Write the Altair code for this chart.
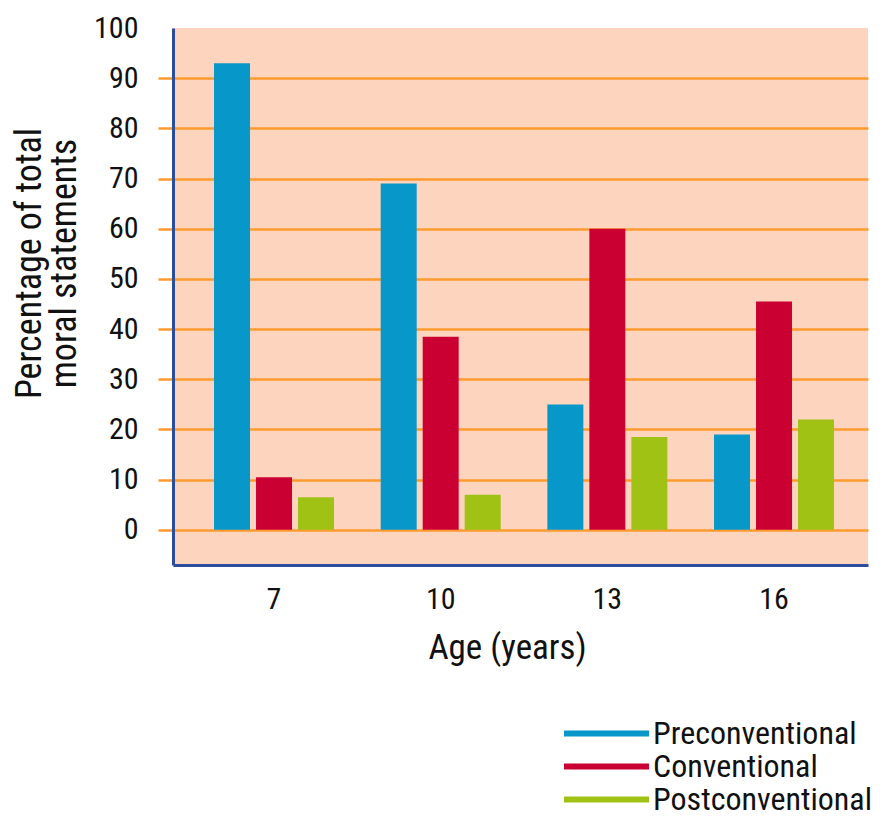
import altair as alt
import pandas as pd

ages = ["7", "10", "13", "16"]
stages = ["Preconventional", "Conventional", "Postconventional"]
preconventional = [93, 69, 25, 19]
conventional = [10.5, 38.5, 60, 45.5]
postconventional = [6.5, 7, 18.5, 22]
colors = ["#0897C9", "#CB0032", "#A0C214"]
y_ticks = [0, 10, 20, 30, 40, 50, 60, 70, 80, 90, 100]

rows = []
for stage, vals in zip(stages, [preconventional, conventional, postconventional]):
    for a, v in zip(ages, vals):
        rows.append({"age": a, "stage": stage, "value": v})
df = pd.DataFrame(rows)

FONT = "Liberation Sans Narrow, Roboto Condensed, DejaVu Sans Condensed, sans-serif"
ORANGE = "#FF9A2E"
NAVY = "#2A4E9C"

chart = alt.Chart(df).mark_bar().encode(
    x=alt.X(
        "age:N",
        sort=ages,
        scale=alt.Scale(paddingInner=0.28, paddingOuter=0.225, align=0.547),
        axis=alt.Axis(
            title="Age (years)",
            labelAngle=0,
            ticks=False,
            labelPadding=19,
            labelFontSize=30,
            labelColor="#111111",
            labelFont=FONT,
            titleFont=FONT,
            titleFontSize=35,
            titleFontWeight="normal",
            titleColor="#111111",
            titlePadding=16,
            titleX=334,
            domainColor=NAVY,
            domainWidth=3,
            grid=False,
        ),
    ),
    xOffset=alt.XOffset(
        "stage:N", sort=stages, scale=alt.Scale(paddingInner=1 / 7, paddingOuter=0)
    ),
    y=alt.Y(
        "value:Q",
        scale=alt.Scale(domain=[-7, 100], nice=False, zero=False),
        axis=alt.Axis(
            title=["Percentage of total", "moral statements"],
            values=y_ticks,
            labelFontSize=30,
            labelFont=FONT,
            labelColor="#111111",
            labelPadding=20,
            tickSize=15,
            tickColor=ORANGE,
            tickWidth=2.5,
            tickOpacity={"condition": {"test": "datum.value === 100", "value": 0}, "value": 1},
            grid=True,
            gridColor=ORANGE,
            gridWidth=2.5,
            gridOpacity={"condition": {"test": "datum.value === 100", "value": 0}, "value": 1},
            domainColor=NAVY,
            domainWidth=3,
            titleFont=FONT,
            titleFontSize=36,
            titleFontWeight="normal",
            titleColor="#111111",
            titleLineHeight=35,
            titlePadding=10,
            titleY=235,
        ),
    ),
    color=alt.Color(
        "stage:N",
        sort=stages,
        scale=alt.Scale(domain=stages, range=colors),
        legend=alt.Legend(
            title=None,
            orient="none",
            legendX=391,
            legendY=689,
            symbolType="M-1,-0.07H1V0.07H-1Z",
            symbolSize=7225,
            symbolStrokeWidth=0,
            labelFont=FONT,
            labelFontSize=32,
            labelColor="#111111",
            labelOffset=4,
            labelLimit=0,
            rowPadding=0,
            clipHeight=33,
        ),
    ),
).properties(
    width=695,
    height=537,
    autosize=alt.AutoSizeParams(type="none"),
    padding={"left": 165, "top": 20, "right": 6, "bottom": 250},
).configure_view(
    fill="#FDD5BE", stroke=None
).configure_axis(labelFontWeight="normal")

chart.save("out.html", embed_options={"renderer": "svg", "actions": False})
